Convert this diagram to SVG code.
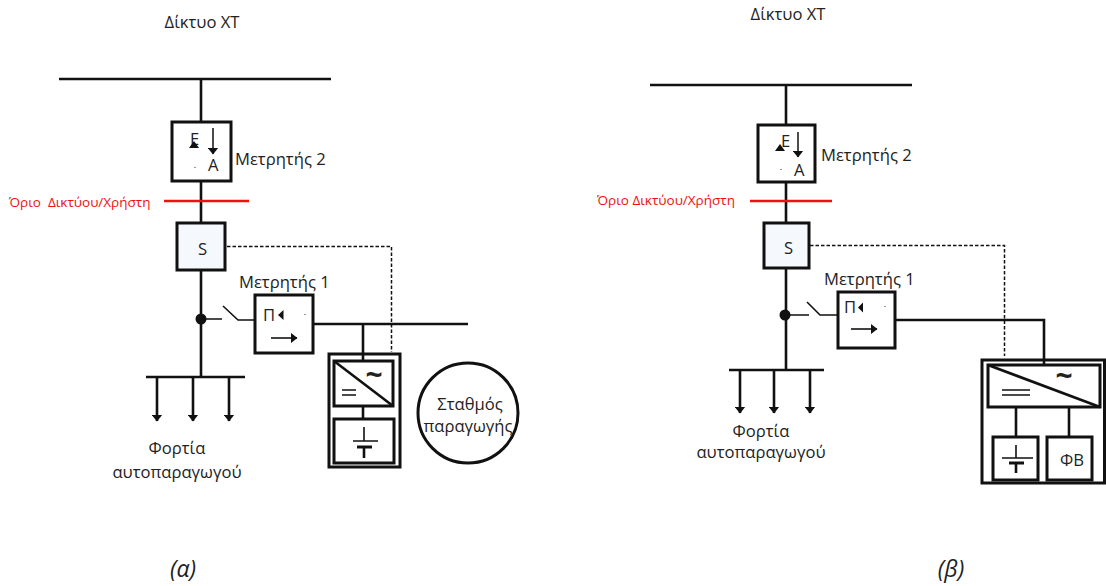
<svg xmlns="http://www.w3.org/2000/svg" width="1106" height="586" viewBox="0 0 1106 586">
<style>
text{font-family:"Open Sans","Liberation Sans",sans-serif;font-size:16.6px;fill:#222}
.m{text-anchor:middle}
.box{fill:#fff;stroke:#111;stroke-width:3}
.s{fill:#f5f8fc}
.wrap{fill:none}
.ln{fill:none;stroke:#111;stroke-width:2.6}
.th{fill:none;stroke:#111;stroke-width:1.6}
.dash{fill:none;stroke:#111;stroke-width:1.5;stroke-dasharray:3.500 2}
.red{fill:none;stroke:#f01010;stroke-width:2.6}
.r{fill:#f01010;font-size:13.5px}
.i{font-style:italic;font-size:23px}
.tilde{font-size:30px;font-weight:700;text-anchor:middle}
</style>
<defs>
<marker id="a" markerWidth="11" markerHeight="8" refX="5.500" refY="6.500" orient="0" markerUnits="userSpaceOnUse" viewBox="0 0 11 8"><path d="M0 0H11L5.500 7z" fill="#111"/></marker>
<marker id="b" markerWidth="7" markerHeight="10" refX="6" refY="5" orient="0" markerUnits="userSpaceOnUse" viewBox="0 0 7 10"><path d="M0 0L6.500 5L0 10z" fill="#111"/></marker>
</defs>
<g id="connectors">
<path class="ln" d="M59 79H331M201 79V377M146 377H245"/>
<path class="ln" d="M157 377V421" marker-end="url(#a)"/>
<path class="ln" d="M193 377V421" marker-end="url(#a)"/>
<path class="ln" d="M229 377V421" marker-end="url(#a)"/>
<path class="th" d="M201 319H222M223 306L238 320H255"/>
<path class="ln" d="M313 324H468"/>
<path class="dash" d="M227 246.500H391.500V352"/>
<path class="red" d="M164 201H249"/>
<path class="ln" d="M650 85H912M786 85V370M729 370H824"/>
<path class="ln" d="M740 370V413" marker-end="url(#a)"/>
<path class="ln" d="M774 370V413" marker-end="url(#a)"/>
<path class="ln" d="M810 370V413" marker-end="url(#a)"/>
<path class="th" d="M785 315H809M807 302L820 315H838"/>
<path class="ln" d="M895 320H1044V365"/>
<path class="dash" d="M810 245.500H1004.500V356"/>
<path class="red" d="M750 201H832"/>
</g>
<g id="title-a"><text class="m" x="202" y="28">Δίκτυο ΧΤ</text></g>
<g id="meter2-a">
<rect class="box" x="172" y="122" width="59" height="59"/>
<text x="190" y="145">E</text>
<path class="ln" style="stroke-width:1.5" d="M213 128V154" marker-end="url(#a)"/>
<path d="M189 148H199L194 141z" fill="#111"/>
<text x="208" y="171">A</text>
<rect x="194.500" y="167" width="1" height="1" fill="#333"/>
<text x="235" y="165">Μετρητής 2</text>
</g>
<g id="limit-a"><text class="r" x="9" y="207" xml:space="preserve">Όριο  Δικτύου/Χρήστη</text></g>
<g id="switch-a"><rect class="box s" x="177" y="223" width="48" height="47"/><text x="198" y="255">S</text></g>
<g id="junction-a"><circle cx="201" cy="319" r="5.500" fill="#111"/></g>
<g id="meter1-a">
<rect class="box" x="255" y="295" width="58" height="58"/>
<text x="263" y="321">Π</text>
<path d="M278 315L283.500 310V320z" fill="#111"/>
<rect x="304.500" y="314" width="1" height="1" fill="#333"/>
<path class="th" d="M271 338H297" marker-end="url(#b)"/>
<text x="239" y="288">Μετρητής 1</text>
</g>
<g id="loads-a"><text class="m" x="177" y="454">Φορτία</text><text class="m" x="177" y="478">αυτοπαραγωγού</text></g>
<g id="storage-a">
<rect class="box" x="329" y="354" width="71" height="113"/>
<path class="ln" d="M363 324V361M363 406V419"/>
<rect class="box" x="334" y="361" width="59" height="45"/>
<path class="ln" d="M334 361L393 406"/>
<path class="th" d="M342 390H356M342 395H356"/>
<text class="tilde" x="374" y="385">~</text>
<rect class="box" x="334" y="419" width="60" height="44"/>
<path class="th" d="M364 427V441M353 441H378"/>
<path class="ln" d="M357 447H372" style="stroke-width:3"/><path class="ln" d="M364 447V458"/>
</g>
<g id="plant-a">
<circle cx="468" cy="413" r="50" fill="#fff" stroke="#111" stroke-width="3"/>
<text class="m" x="470" y="410">Σταθμός</text><text class="m" x="468" y="432">παραγωγής</text>
</g>
<g id="caption-a"><text class="m i" x="183" y="577">(α)</text></g>
<g id="title-b"><text class="m" x="788" y="20">Δίκτυο ΧΤ</text></g>
<g id="meter2-b">
<rect class="box" x="758" y="125" width="57" height="57"/>
<text x="781" y="147">E</text>
<path class="ln" style="stroke-width:1.5" d="M798 132V157" marker-end="url(#a)"/>
<path d="M775 151H785L780 144z" fill="#111"/>
<text x="794" y="176">A</text>
<rect x="780.500" y="169" width="1" height="1" fill="#333"/>
<text x="821" y="161">Μετρητής 2</text>
</g>
<g id="limit-b"><text class="r" x="597" y="205">Όριο Δικτύου/Χρήστη</text></g>
<g id="switch-b"><rect class="box s" x="764" y="223" width="45" height="45"/><text x="784" y="254">S</text></g>
<g id="junction-b"><circle cx="785" cy="315" r="5.500" fill="#111"/></g>
<g id="meter1-b">
<rect class="box" x="838" y="292" width="57" height="56"/>
<text x="844" y="313">Π</text>
<path d="M858 307.500L863 302.500V312.500z" fill="#111"/>
<rect x="884.500" y="306" width="1" height="1" fill="#333"/>
<path class="th" d="M851 329H877" marker-end="url(#b)"/>
<text x="824" y="285">Μετρητής 1</text>
</g>
<g id="loads-b"><text class="m" x="761" y="437">Φορτία</text><text class="m" x="761" y="458">αυτοπαραγωγού</text></g>
<g id="storage-b">
<rect class="box wrap" x="982" y="360" width="122.500" height="123"/>
<path class="ln" d="M1016 407V437M1069 407V437"/>
<rect class="box" x="988" y="365" width="112" height="42"/>
<path class="ln" d="M988 365L1100 407"/>
<path class="th" d="M1002 390H1030M1002 395H1030"/>
<text class="tilde" x="1064" y="386">~</text>
<rect class="box" x="993" y="437" width="45" height="43"/>
<path class="th" d="M1016 445V458M1002 458H1033"/>
<path class="ln" d="M1009 463H1024" style="stroke-width:3"/><path class="ln" d="M1016 463V473"/>
<rect class="box" x="1047" y="437" width="45" height="43"/>
<text x="1060" y="466">ΦΒ</text>
</g>
<g id="caption-b"><text class="m i" x="951" y="577">(β)</text></g>
</svg>
